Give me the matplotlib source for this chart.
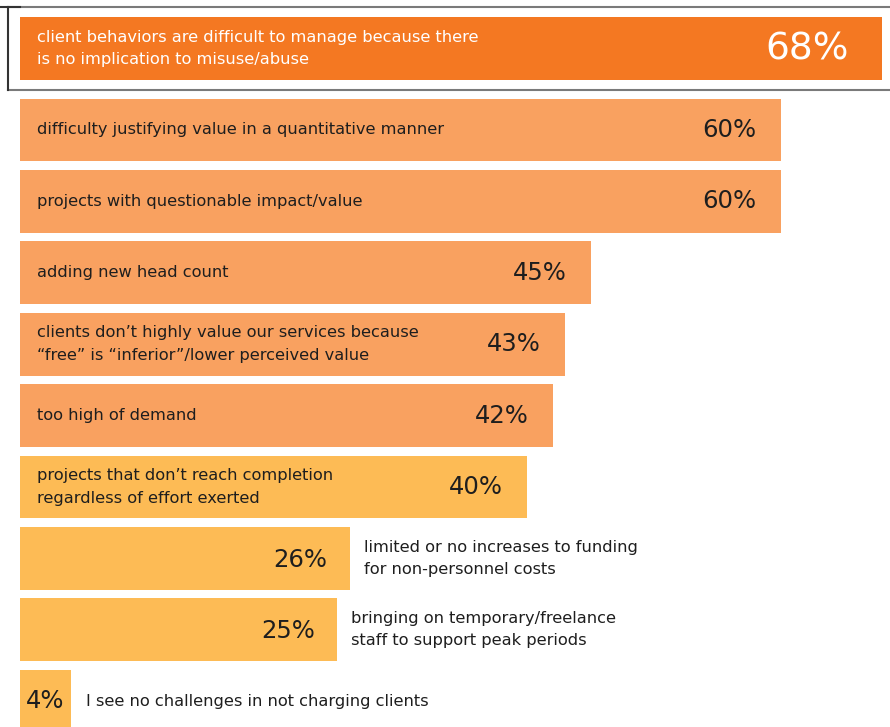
import matplotlib.pyplot as plt
import numpy as np
from matplotlib.lines import Line2D

labels = [
    "client behaviors are difficult to manage because there\nis no implication to misuse/abuse",
    "difficulty justifying value in a quantitative manner",
    "projects with questionable impact/value",
    "adding new head count",
    "clients don\u2019t highly value our services because\n\u201cfree\u201d is \u201cinferior\u201d/lower perceived value",
    "too high of demand",
    "projects that don\u2019t reach completion\nregardless of effort exerted",
    "limited or no increases to funding\nfor non-personnel costs",
    "bringing on temporary/freelance\nstaff to support peak periods",
    "I see no challenges in not charging clients",
]
values = [68, 60, 60, 45, 43, 42, 40, 26, 25, 4]
groups = ["top", "mid", "mid", "mid", "mid", "mid", "low", "low", "low", "low"]

colors = {"top": "#f47822", "mid": "#f9a160", "low": "#fdbb55"}

W, H = 890, 727
fig = plt.figure(figsize=(W / 100, H / 100), dpi=100)
ax = fig.add_axes([0, 0, 1, 1])

px = 12.68  # pixels per percent
pitch = 71.4
n = len(values)
y = np.arange(n) + np.where(np.arange(n) > 0, 0.141, 0.0)

ax.barh(y, values, height=0.88, color=[colors[g] for g in groups], zorder=2)

ax.set_xlim(-20 / px, (W - 20) / px)
ax.set_ylim((H - 48.5) / pitch, -48.5 / pitch)
ax.axis("off")

txt = "#1e1e1e"
fs = 11.7
ls = 1.62
for i, (lab, v) in enumerate(zip(labels, values)):
    if i == 0:
        ax.text(17 / px, y[i], lab, ha="left", va="center", fontsize=fs,
                color="white", linespacing=ls)
        ax.text(v - 33 / px, y[i] + 0.02, f"{v}%", ha="right", va="center",
                fontsize=27, color="white")
    elif v >= 30:
        ax.text(17 / px, y[i], lab, ha="left", va="center", fontsize=fs,
                color=txt, linespacing=ls)
        ax.text(v - 24 / px, y[i], f"{v}%", ha="right", va="center",
                fontsize=17.5, color=txt)
    elif v >= 10:
        ax.text(v + 14 / px, y[i], lab, ha="left", va="center", fontsize=fs,
                color=txt, linespacing=ls)
        ax.text(v - 22 / px, y[i] + 0.02, f"{v}%", ha="right", va="center",
                fontsize=17.5, color=txt)
    else:
        ax.text(v + 15 / px, y[i], lab, ha="left", va="center", fontsize=fs,
                color=txt)
        ax.text(v / 2, y[i], f"{v}%", ha="center", va="center",
                fontsize=17.5, color=txt)

# frame around the highlighted bar
def fig_line(x0, y0, x1, y1, c="#7a7a7a", lw=1.5):
    fig.add_artist(Line2D([x0 / W, x1 / W], [1 - y0 / H, 1 - y1 / H],
                          color=c, lw=lw))

fig_line(8, 7, W, 7)
fig_line(8, 90, W, 90)
fig_line(8, 7, 8, 90, c="#333333")
fig_line(0, 7, 20, 7, c="#333333")

fig.savefig("out.png", dpi=100)
